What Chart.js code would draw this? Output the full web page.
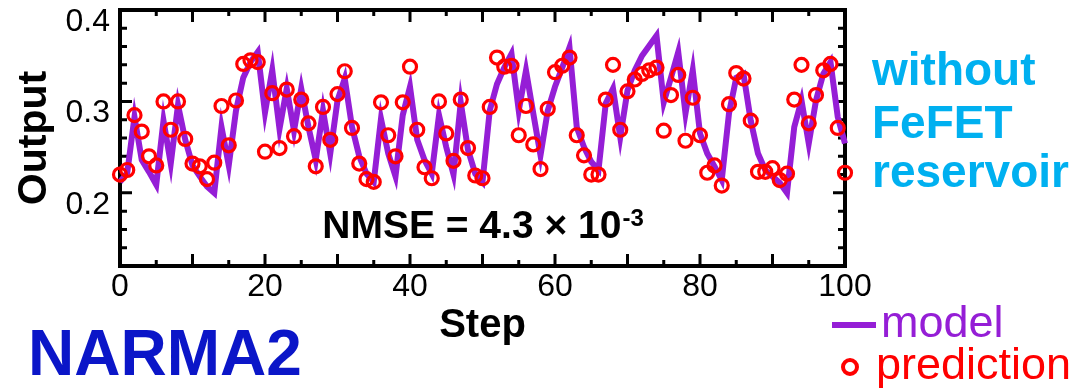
<!DOCTYPE html>
<html>
<head>
<meta charset="utf-8">
<script src="https://cdn.jsdelivr.net/npm/chart.js@4.4.1/dist/chart.umd.min.js"></script>
<style>
  html, body { margin: 0; padding: 0; background: #fff; }
  #wrap { width: 1083px; height: 392px; position: relative; }
</style>
</head>
<body>
<div id="wrap"><canvas id="narmaChart"></canvas></div>
<script>
// DADOS
const steps = [
  0, 1, 2, 3, 4, 5, 6, 7, 8, 9, 10, 11, 12, 13, 14, 15, 16, 17, 18, 19,
  20, 21, 22, 23, 24, 25, 26, 27, 28, 29, 30, 31, 32, 33, 34, 35, 36, 37, 38, 39,
  40, 41, 42, 43, 44, 45, 46, 47, 48, 49, 50, 51, 52, 53, 54, 55, 56, 57, 58, 59,
  60, 61, 62, 63, 64, 65, 66, 67, 68, 69, 70, 71, 72, 73, 74, 75, 76, 77, 78, 79,
  80, 81, 82, 83, 84, 85, 86, 87, 88, 89, 90, 91, 92, 93, 94, 95, 96, 97, 98, 99, 100
];
const modelOut = [
  0.212, 0.222, 0.283, 0.236, 0.223, 0.209, 0.279, 0.232, 0.296, 0.258,
  0.230, 0.218, 0.207, 0.200, 0.272, 0.230, 0.290, 0.326, 0.343, 0.354,
  0.288, 0.334, 0.270, 0.314, 0.268, 0.314, 0.272, 0.236, 0.290, 0.243,
  0.301, 0.325, 0.272, 0.240, 0.221, 0.212, 0.281, 0.243, 0.218, 0.285,
  0.316, 0.258, 0.236, 0.221, 0.285, 0.250, 0.220, 0.299, 0.247, 0.221,
  0.212, 0.290, 0.319, 0.337, 0.352, 0.290, 0.334, 0.287, 0.241, 0.290,
  0.316, 0.337, 0.359, 0.272, 0.250, 0.234, 0.225, 0.298, 0.314, 0.261,
  0.312, 0.334, 0.350, 0.361, 0.372, 0.299, 0.326, 0.354, 0.287, 0.334,
  0.265, 0.243, 0.229, 0.214, 0.287, 0.326, 0.330, 0.279, 0.243, 0.225,
  0.218, 0.211, 0.200, 0.272, 0.301, 0.254, 0.301, 0.330, 0.343, 0.283, 0.254
];
const predictionOut = [
  0.220, 0.225, 0.285, 0.267, 0.240, 0.230, 0.300, 0.269, 0.300, 0.259,
  0.232, 0.229, 0.215, 0.233, 0.295, 0.252, 0.301, 0.341, 0.345, 0.343,
  0.245, 0.309, 0.249, 0.313, 0.262, 0.302, 0.276, 0.229, 0.294, 0.258,
  0.308, 0.333, 0.271, 0.232, 0.215, 0.212, 0.299, 0.263, 0.240, 0.299,
  0.338, 0.269, 0.228, 0.216, 0.300, 0.265, 0.235, 0.302, 0.249, 0.219,
  0.216, 0.294, 0.348, 0.338, 0.339, 0.263, 0.295, 0.253, 0.226, 0.292,
  0.332, 0.339, 0.348, 0.263, 0.241, 0.220, 0.220, 0.302, 0.340, 0.269,
  0.311, 0.324, 0.330, 0.334, 0.337, 0.268, 0.307, 0.329, 0.257, 0.304,
  0.263, 0.222, 0.230, 0.208, 0.297, 0.331, 0.325, 0.279, 0.223, 0.223,
  0.227, 0.214, 0.221, 0.302, 0.340, 0.276, 0.307, 0.334, 0.341, 0.271, 0.222
];
const xTickLabels = [0, 20, 40, 60, 80, 100];
const yTickLabels = [0.2, 0.3, 0.4];
const nmseText = "NMSE = 4.3 \u00d7 10";
const nmseExp = "-3";

const FONT = "'Liberation Sans', Arial, sans-serif";
const PURPLE = "#951ed6";
const RED = "#ff0000";

// moldura + ticks para dentro
const frameTicks = {
  id: "frameTicks",
  beforeDatasetsDraw(chart) {
    const { ctx, chartArea: a, scales: { x, y } } = chart;
    ctx.save();
    ctx.strokeStyle = "#000";
    ctx.lineWidth = 3;
    ctx.beginPath();
    x.ticks.forEach(t => {
      const px = x.getPixelForValue(t.value);
      const len = t.value % 10 === 0 ? 12 : 6;
      ctx.moveTo(px, a.bottom); ctx.lineTo(px, a.bottom - len);
      ctx.moveTo(px, a.top); ctx.lineTo(px, a.top + len);
    });
    y.ticks.forEach(t => {
      const py = y.getPixelForValue(t.value);
      const major = Math.abs(t.value * 10 - Math.round(t.value * 10)) < 1e-6;
      const len = major ? 12 : 7;
      ctx.moveTo(a.left, py); ctx.lineTo(a.left + len, py);
      ctx.moveTo(a.right, py); ctx.lineTo(a.right - len, py);
    });
    ctx.stroke();
    ctx.lineWidth = 4;
    ctx.strokeRect(a.left, a.top, a.width, a.height);
    ctx.restore();
  }
};

// textos extras
const extraText = {
  id: "extraText",
  afterDraw(chart) {
    const { ctx, scales: { x, y } } = chart;
    ctx.save();
    ctx.textBaseline = "alphabetic";
    ctx.textAlign = "left";

    // NMSE
    ctx.fillStyle = "#000";
    ctx.font = "bold 39px " + FONT;
    const w1 = ctx.measureText(nmseText).width;
    ctx.font = "bold 24px " + FONT;
    const w2 = ctx.measureText(nmseExp).width;
    const sx = x.getPixelForValue(50) - (w1 + w2) / 2;
    const by = y.getPixelForValue(0.151);
    ctx.font = "bold 39px " + FONT;
    ctx.fillText(nmseText, sx, by);
    ctx.font = "bold 24px " + FONT;
    ctx.fillText(nmseExp, sx + w1 + 1, by - 12);

    // lado direito
    ctx.fillStyle = "#00b0f0";
    ctx.font = "bold 46px " + FONT;
    ctx.fillText("without", 872, 85);
    ctx.fillText("FeFET", 872, 138);
    ctx.fillText("reservoir", 872, 187);

    // NARMA2
    ctx.fillStyle = "#0b16c8";
    ctx.font = "bold 64px " + FONT;
    ctx.fillText("NARMA2", 28, 375);

    // legenda
    ctx.strokeStyle = PURPLE;
    ctx.lineWidth = 6;
    ctx.beginPath();
    ctx.moveTo(832, 325); ctx.lineTo(876, 325);
    ctx.stroke();
    ctx.fillStyle = PURPLE;
    ctx.font = "45px " + FONT;
    ctx.fillText("model", 881, 337);

    ctx.strokeStyle = RED;
    ctx.lineWidth = 4;
    ctx.beginPath();
    ctx.arc(850, 367, 7, 0, Math.PI * 2);
    ctx.stroke();
    ctx.fillStyle = RED;
    ctx.fillText("prediction", 876, 379);
    ctx.restore();
  }
};

new Chart(document.getElementById("narmaChart"), {
  type: "line",
  data: {
    datasets: [
      {
        label: "prediction",
        data: steps.map((s, i) => ({ x: s, y: predictionOut[i] })),
        showLine: false,
        pointStyle: "circle",
        pointRadius: 6.5,
        pointBorderWidth: 3.2,
        pointBorderColor: RED,
        pointBackgroundColor: "rgba(0,0,0,0)",
        clip: false
      },
      {
        label: "model",
        data: steps.map((s, i) => ({ x: s, y: modelOut[i] })),
        borderColor: PURPLE,
        borderWidth: 6,
        pointRadius: 0,
        tension: 0,
        clip: false
      }
    ]
  },
  options: {
    responsive: true,
    maintainAspectRatio: false,
    animation: false,
    layout: { padding: { left: 0, top: 10, right: 238, bottom: 46 } },
    plugins: { legend: { display: false }, tooltip: { enabled: false } },
    scales: {
      x: {
        type: "linear",
        min: 0, max: 100,
        afterFit: s => { s.height = 80; s.paddingLeft = 0; s.paddingRight = 0; },
        grid: { display: false, drawTicks: false },
        border: { display: false },
        ticks: {
          stepSize: 5,
          autoSkip: false,
          maxRotation: 0,
          padding: 2,
          color: "#000",
          font: { family: FONT, size: 32 },
          callback: v => xTickLabels.includes(v) ? String(v) : ""
        },
        title: {
          display: true, text: "Step", color: "#000",
          padding: 0,
          font: { family: FONT, size: 40, weight: "bold", lineHeight: 1 }
        }
      },
      y: {
        min: 0.12, max: 0.4,
        afterFit: s => { s.width = 120; s.paddingTop = 0; s.paddingBottom = 0; },
        grid: { display: false, drawTicks: false },
        border: { display: false },
        ticks: {
          stepSize: 0.02,
          autoSkip: false,
          padding: 10,
          labelOffset: 12,
          color: "#000",
          font: { family: FONT, size: 32 },
          callback: v => {
            const hit = yTickLabels.find(t => Math.abs(t - v) < 1e-6);
            return hit !== undefined ? hit.toFixed(1) : "";
          }
        },
        title: {
          display: true, text: "Output", color: "#000",
          padding: { top: 14, bottom: 0 },
          font: { family: FONT, size: 41, weight: "bold", lineHeight: 1 }
        }
      }
    }
  },
  plugins: [frameTicks, extraText]
});
</script>
</body>
</html>
